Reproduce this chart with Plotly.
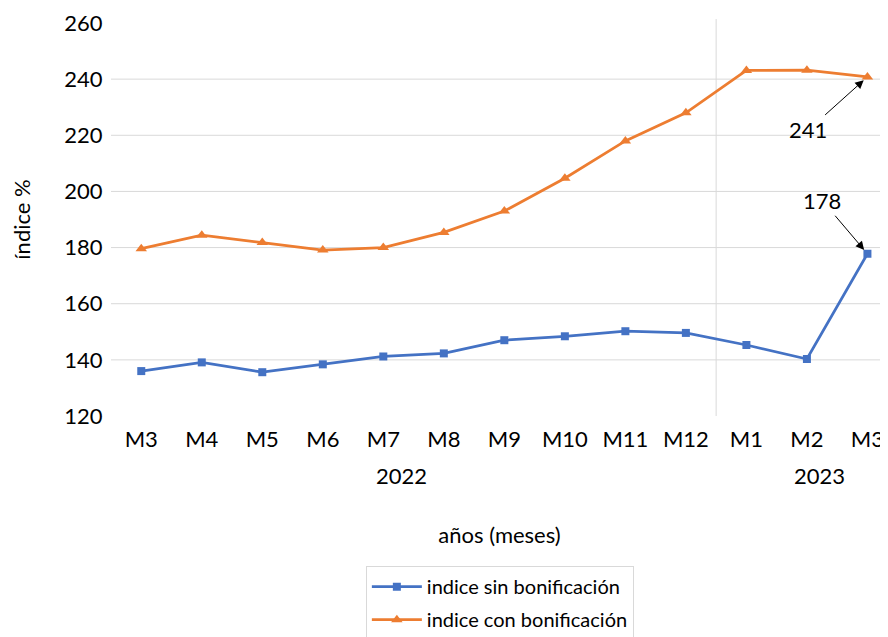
import plotly.graph_objects as go

months = ["M3", "M4", "M5", "M6", "M7", "M8", "M9", "M10", "M11", "M12", "M1", "M2", "M3"]
years = ["2022", "2023"]
year_label_pos = [4.3, 11.2]
year_split = 9.5
sin_bonif = [136.0, 139.1, 135.6, 138.4, 141.2, 142.3, 147.0, 148.4, 150.2, 149.6, 145.3, 140.3, 177.8]
con_bonif = [179.6, 184.4, 181.8, 179.1, 180.0, 185.4, 193.0, 204.7, 218.0, 228.0, 243.1, 243.2, 240.8]
y_ticks = [120, 140, 160, 180, 200, 220, 240, 260]

FONT = "Lato, Carlito, 'Noto Sans', sans-serif"
FS = 22
xs = list(range(len(months)))

fig = go.Figure()
fig.add_trace(go.Scatter(x=xs, y=sin_bonif, mode="lines+markers", name="indice sin bonificación",
                         legendgroup="a",
                         line=dict(color="#4472C4", width=2.75),
                         marker=dict(symbol="square", size=8, color="#4472C4")))
fig.add_trace(go.Scatter(x=xs, y=con_bonif, mode="lines+markers", name="indice con bonificación",
                         legendgroup="b",
                         line=dict(color="#ED7D31", width=2.75),
                         marker=dict(symbol="triangle-up", size=10, color="#ED7D31")))

# gridlines (interior only)
for v in y_ticks[1:-1]:
    fig.add_shape(type="line", xref="paper", x0=0, x1=1, yref="y", y0=v, y1=v,
                  line=dict(color="#d9d9d9", width=1), layer="below")
# year separator
fig.add_shape(type="line", xref="x", x0=year_split, x1=year_split, yref="paper", y0=0, y1=1.01,
              line=dict(color="#d9d9d9", width=1), layer="below")

for name, pos in zip(years, year_label_pos):
    fig.add_annotation(x=pos, y=0, xref="x", yref="paper", yshift=-59, text=name,
                       yanchor="middle", showarrow=False,
                       font=dict(family=FONT, size=FS, color="#000"))

fig.add_annotation(x=12, y=con_bonif[-1], text=f"{round(con_bonif[-1])}", ax=-59, ay=53,
                   showarrow=True, arrowhead=2, arrowsize=1.7, arrowwidth=1, arrowcolor="#000",
                   standoff=5, font=dict(family=FONT, size=FS, color="#000"))
fig.add_annotation(x=12, y=sin_bonif[-1], text=f"{round(sin_bonif[-1])}", ax=-45, ay=-53,
                   showarrow=True, arrowhead=2, arrowsize=1.7, arrowwidth=1, arrowcolor="#000",
                   standoff=5, font=dict(family=FONT, size=FS, color="#000"))

fig.update_layout(
    width=880, height=629,
    margin=dict(l=103, r=0, t=15, b=221, autoexpand=False),
    paper_bgcolor="white", plot_bgcolor="white",
    font=dict(family=FONT, size=FS, color="#000"),
    xaxis=dict(range=[-0.5, 12.34], tickmode="array", tickvals=xs, ticktext=months,
               showgrid=False, zeroline=False, showline=False, automargin=False,
               ticks="outside", ticklen=4, tickcolor="rgba(0,0,0,0)",
               tickfont=dict(family=FONT, size=FS),
               title=dict(text="años (meses)", font=dict(family=FONT, size=FS), standoff=76)),
    yaxis=dict(range=[120, 260], tickmode="array", tickvals=y_ticks,
               showgrid=False, zeroline=False, showline=False, automargin=False,
               ticks="outside", ticklen=3, tickcolor="rgba(0,0,0,0)",
               tickfont=dict(family=FONT, size=FS),
               title=dict(text="índice %", font=dict(family=FONT, size=FS), standoff=35)),
    legend=dict(x=0.328, y=-0.382, xanchor="left", yanchor="top",
                bordercolor="#d9d9d9", borderwidth=1, font=dict(family=FONT, size=20),
                itemwidth=50, tracegroupgap=4),
    showlegend=True,
)

fig.write_html("out.html")
